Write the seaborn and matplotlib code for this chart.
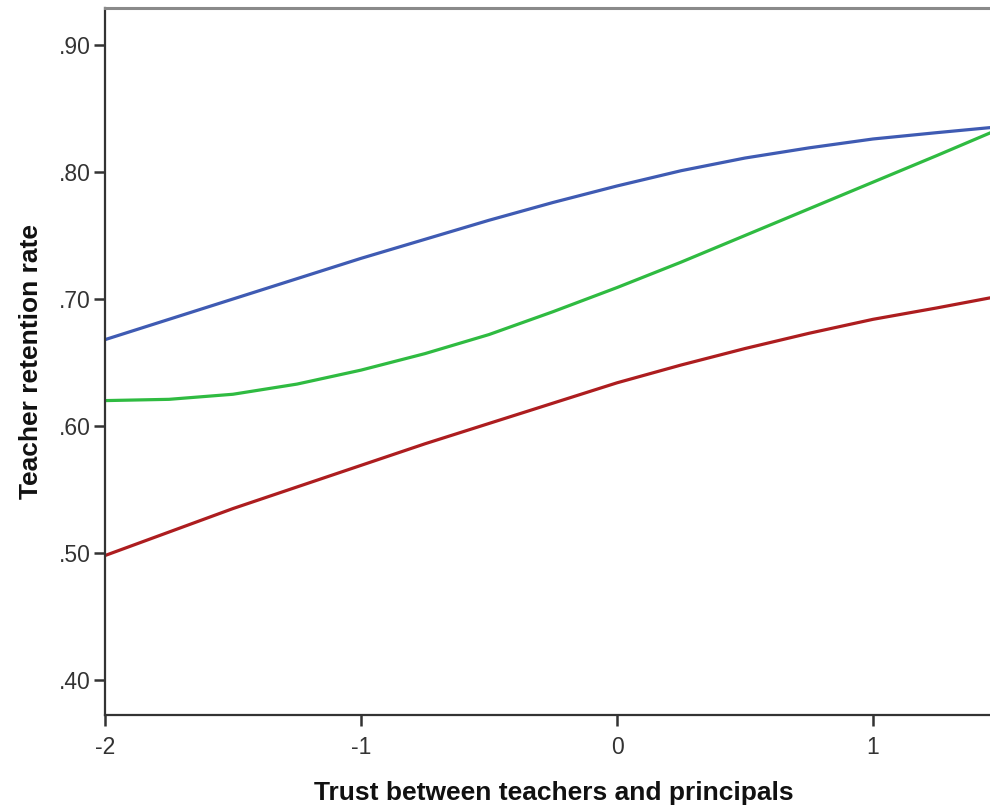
import numpy as np
import pandas as pd
import matplotlib
matplotlib.use("Agg")
import matplotlib.pyplot as plt
import seaborn as sns

trust = [-2.0, -1.75, -1.5, -1.25, -1.0, -0.75, -0.5, -0.25, 0.0, 0.25, 0.5, 0.75, 1.0, 1.25, 1.46]
blue = [0.668, 0.684, 0.700, 0.716, 0.732, 0.747, 0.762, 0.776, 0.789, 0.801, 0.811, 0.819, 0.826, 0.831, 0.835]
green = [0.620, 0.621, 0.625, 0.633, 0.644, 0.657, 0.672, 0.690, 0.709, 0.729, 0.750, 0.771, 0.792, 0.813, 0.831]
red = [0.498, 0.5165, 0.535, 0.552, 0.569, 0.586, 0.602, 0.618, 0.634, 0.648, 0.661, 0.673, 0.684, 0.693, 0.701]

x_ticks = [-2, -1, 0, 1]
y_ticks = [0.40, 0.50, 0.60, 0.70, 0.80, 0.90]
y_tick_labels = [".40", ".50", ".60", ".70", ".80", ".90"]

df = pd.DataFrame({
    "trust": trust * 3,
    "rate": blue + green + red,
    "group": ["blue"] * len(trust) + ["green"] * len(trust) + ["red"] * len(trust),
})
palette = {"blue": "#3f5bb3", "green": "#2fbb41", "red": "#ad1d1f"}

sns.set_theme(style="white")
plt.rcParams["font.family"] = ["Liberation Sans", "DejaVu Sans"]

fig = plt.figure(figsize=(9.9, 8.06), dpi=100)
# the plot area continues slightly past the right edge of the figure (cropped)
ax = fig.add_axes([105 / 990, 1 - 715 / 806, (1003 - 105) / 990, (715 - 8) / 806])

sns.lineplot(data=df, x="trust", y="rate", hue="group", palette=palette,
             linewidth=2.3, legend=False, ax=ax, sort=True)

ax.set_xlim(-2, -2 + (1003 - 105) / 256)
ax.set_ylim(0.40 - 35 / 1270, 0.90 + 37 / 1270)
ax.set_xticks(x_ticks)
ax.set_xticklabels([str(t) for t in x_ticks])
ax.set_yticks(y_ticks)
ax.set_yticklabels(y_tick_labels)

ax.tick_params(axis="both", which="major", direction="out", length=8, width=1.8,
               color="#333333", labelsize=16.5, labelcolor="#333333", pad=2,
               left=True, bottom=True)
ax.tick_params(axis="x", pad=7)

for side in ["left", "bottom"]:
    ax.spines[side].set_color("#333333")
    ax.spines[side].set_linewidth(1.6)
ax.spines["top"].set_color("#8a8a8a")
ax.spines["top"].set_linewidth(2.2)
ax.spines["right"].set_visible(False)

ax.set_xlabel("Trust between teachers and principals", fontsize=19, fontweight="bold",
              color="#111111", labelpad=16)
ax.set_ylabel("Teacher retention rate", fontsize=19, fontweight="bold",
              color="#111111", labelpad=12)
ax.grid(False)

fig.savefig("out.png", dpi=100)
